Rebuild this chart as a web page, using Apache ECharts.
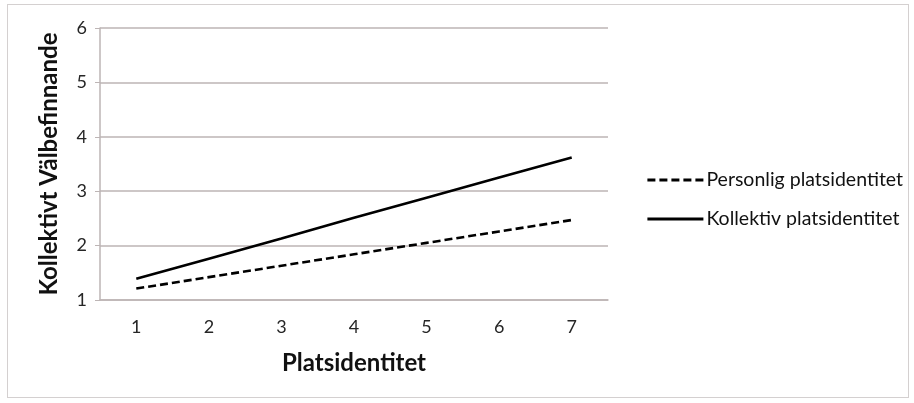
<!DOCTYPE html>
<html><head><meta charset="utf-8">
<script src="https://cdn.jsdelivr.net/npm/echarts@6/dist/echarts.min.js"></script>
<style>
html,body{margin:0;padding:0;background:#fff;}
#frame{position:absolute;left:7px;top:4px;width:900px;height:392px;border:1px solid #d4d0d0;}
#c{position:absolute;left:0;top:0;width:914px;height:403px;}
</style></head>
<body><div id="frame"></div><div id="c"></div>
<script>
const categories = ['1','2','3','4','5','6','7'];
const personlig = [1.21, 1.42, 1.63, 1.84, 2.05, 2.26, 2.47];
const kollektiv = [1.39, 1.76, 2.13, 2.51, 2.88, 3.25, 3.62];
const seriesNames = ['Personlig platsidentitet', 'Kollektiv platsidentitet'];
const xTitle = 'Platsidentitet';
const yTitle = 'Kollektivt Välbefinnande';

const chart = echarts.init(document.getElementById('c'));
const font = 'Lato';
chart.setOption({
  animation: false,
  grid: {left: 100, right: 306, top: 28, bottom: 103},
  legend: {
    orient: 'vertical', left: 641, top: 165,
    itemWidth: 56, itemHeight: 16, itemGap: 19,
    itemStyle: {opacity: 0},
    lineStyle: {width: 2.8},
    textStyle: {fontFamily: font, fontSize: 19.5, color: '#111', padding: [0,0,0,-2]},
    data: seriesNames
  },
  xAxis: {
    type: 'category', data: categories, boundaryGap: true,
    name: xTitle, nameLocation: 'middle', nameGap: 51,
    nameTextStyle: {fontFamily: font, fontSize: 24, fontWeight: 'bold', color: '#111'},
    axisLine: {lineStyle: {color: '#bdb5b5', width: 1.5}},
    axisTick: {show: false},
    axisLabel: {fontFamily: font, fontSize: 18, color: '#262626', margin: 18}
  },
  yAxis: {
    type: 'value', min: 1, max: 6, interval: 1,
    name: yTitle, nameLocation: 'middle', nameGap: 39,
    nameTextStyle: {fontFamily: font, fontSize: 24, fontWeight: 'bold', color: '#111'},
    axisLine: {show: true, lineStyle: {color: '#bdb5b5', width: 1.5}},
    axisTick: {show: true, length: 5, lineStyle: {color: '#bdb5b5'}},
    axisLabel: {fontFamily: font, fontSize: 18, color: '#262626', margin: 13},
    splitLine: {lineStyle: {color: '#bdb5b5', width: 1.5}}
  },
  series: [
    {name: seriesNames[0], type: 'line', data: personlig, symbol: 'none',
     lineStyle: {color: '#000', width: 2.6, type: [8, 4]}, itemStyle: {color: '#000'}},
    {name: seriesNames[1], type: 'line', data: kollektiv, symbol: 'none',
     lineStyle: {color: '#000', width: 2.6, type: 'solid'}, itemStyle: {color: '#000'}}
  ]
});
</script></body></html>
